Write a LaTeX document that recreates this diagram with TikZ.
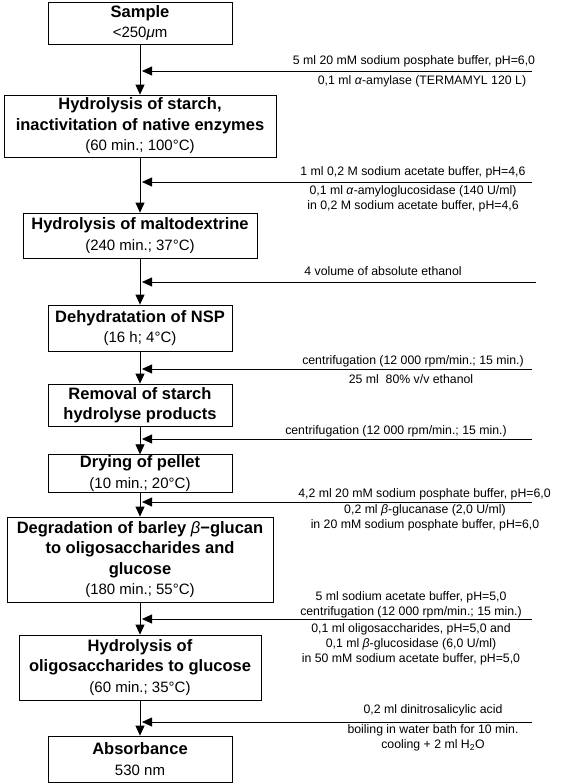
\documentclass[tikz,border=0pt]{standalone}
\usepackage{fontspec}
\setmainfont{Liberation Sans}
\usetikzlibrary{arrows.meta}
\newcommand{\steptitle}[1]{{\fontsize{16.5}{20.5}\selectfont\bfseries #1}}
\tikzset{
  stepbox/.style={
    draw=black,
    line width=0.8pt,
    fill=white,
    align=center,
    inner sep=1pt,
    font=\fontsize{15}{20.5}\selectfont
  },
  notetext/.style={
    align=center,
    inner sep=0pt,
    font=\fontsize{12.3}{15}\selectfont
  },
  flowarrow/.style={-{Triangle[length=10pt,width=9pt]},line width=0.8pt,draw=black}
}
\begin{document}
\begin{tikzpicture}[x=1pt,y=-1pt]
\fill[white] (0,0) rectangle (580,784);
\path[use as bounding box] (0,0) rectangle (580,784);
% process steps
\node[stepbox,minimum width=184pt,minimum height=42pt] (sample) at (140,23) {\steptitle{Sample}\\<250\textit{μ}m};
\node[stepbox,minimum width=272pt,minimum height=62pt] (starch) at (140,126) {\steptitle{Hydrolysis of starch,}\\\steptitle{inactivitation of native enzymes}\\(60 min.; 100°C)};
\node[stepbox,minimum width=234pt,minimum height=45pt] (malto) at (140,235.5) {\steptitle{Hydrolysis of maltodextrine}\\(240 min.; 37°C)};
\node[stepbox,minimum width=184pt,minimum height=46pt] (nsp) at (140,328) {\steptitle{Dehydratation of NSP}\\(16 h; 4°C)};
\node[stepbox,minimum width=184pt,minimum height=42pt] (removal) at (140,405) {\steptitle{Removal of starch}\\\steptitle{hydrolyse products}};
\node[stepbox,minimum width=184pt,minimum height=37pt] (drying) at (140,473.5) {\steptitle{Drying of pellet}\\(10 min.; 20°C)};
\node[stepbox,minimum width=266pt,minimum height=85pt] (degrad) at (140,559.5) {\steptitle{Degradation of barley \textit{\mdseries β}−glucan}\\\steptitle{to oligosaccharides and}\\\steptitle{glucose}\\(180 min.; 55°C)};
\node[stepbox,minimum width=242pt,minimum height=65pt] (oligo) at (140,667.5) {\steptitle{Hydrolysis of}\\\steptitle{oligosaccharides to glucose}\\(60 min.; 35°C)};
\node[stepbox,minimum width=184pt,minimum height=46pt] (absorb) at (140,759) {\steptitle{Absorbance}\\530 nm};
\draw[flowarrow] (sample) -- (starch);
\draw[flowarrow] (starch) -- (malto);
\draw[flowarrow] (malto) -- (nsp);
\draw[flowarrow] (nsp) -- (removal);
\draw[flowarrow] (removal) -- (drying);
\draw[flowarrow] (drying) -- (degrad);
\draw[flowarrow] (degrad) -- (oligo);
\draw[flowarrow] (oligo) -- (absorb);
% additions from the right
\coordinate (feed1) at (532,71);   \coordinate (join1) at (142,71);
\coordinate (feed2) at (532,182);  \coordinate (join2) at (142,182);
\coordinate (feed3) at (536,282);  \coordinate (join3) at (142,282);
\coordinate (feed4) at (532,369);  \coordinate (join4) at (142,369);
\coordinate (feed5) at (532,439);  \coordinate (join5) at (142,439);
\coordinate (feed6) at (532,502);  \coordinate (join6) at (142,502);
\coordinate (feed7) at (532,619);  \coordinate (join7) at (142,619);
\coordinate (feed8) at (532,722);  \coordinate (join8) at (142,722);
\foreach \i in {1,...,8}
  \draw[flowarrow] (feed\i) -- (join\i);
\node[notetext] (note1a) at (414,61) {5 ml 20 mM sodium posphate buffer, pH=6,0};
\node[notetext] (note1b) at (422,81) {0,1 ml \textit{α}-amylase (TERMAMYL 120 L)};
\node[notetext] (note2a) at (413,172) {1 ml 0,2 M sodium acetate buffer, pH=4,6};
\node[notetext] (note2b) at (413,198.5) {0,1 ml \textit{α}-amyloglucosidase (140 U/ml)\\in 0,2 M sodium acetate buffer, pH=4,6};
\node[notetext] (note3) at (383,271) {4 volume of absolute ethanol};
\node[notetext] (note4a) at (413,361.5) {centrifugation (12 000 rpm/min.; 15 min.)};
\node[notetext] (note4b) at (411,379) {25 ml~ 80\% v/v ethanol};
\node[notetext] (note5) at (396,431.5) {centrifugation (12 000 rpm/min.; 15 min.)};
\node[notetext] (note6a) at (424.5,494) {4,2 ml 20 mM sodium posphate buffer, pH=6,0};
\node[notetext] (note6b) at (425,518) {0,2 ml \textit{β}-glucanase (2,0 U/ml)\\in 20 mM sodium posphate buffer, pH=6,0};
\node[notetext] (note7a) at (411,605) {5 ml sodium acetate buffer, pH=5,0\\centrifugation (12 000 rpm/min.; 15 min.)};
\node[notetext] (note7b) at (411,644) {0,1 ml oligosaccharides, pH=5,0 and\\0,1 ml \textit{β}-glucosidase (6,0 U/ml)\\in 50 mM sodium acetate buffer, pH=5,0};
\node[notetext] (note8a) at (433,710.5) {0,2 ml dinitrosalicylic acid};
\node[notetext] (note8b) at (433,737.5) {boiling in water bath for 10 min.\\cooling + 2 ml H\textsubscript{2}O};
\end{tikzpicture}
\end{document}
